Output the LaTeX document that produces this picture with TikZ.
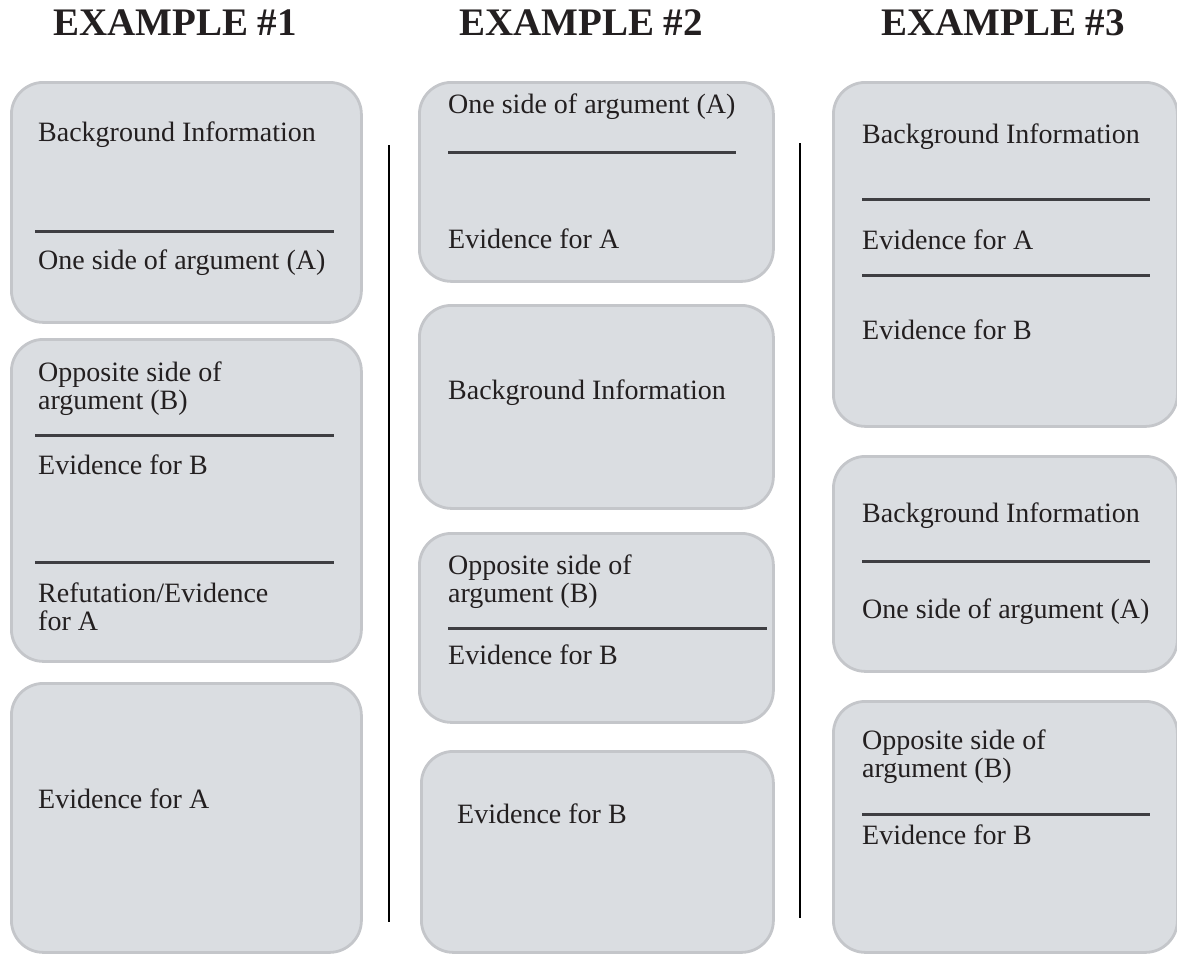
\documentclass[tikz,border=0pt]{standalone}
\usepackage{fontspec}
\setmainfont{Liberation Serif}
\usetikzlibrary{positioning}

\definecolor{panelfill}{RGB}{218,221,225}
\definecolor{paneledge}{RGB}{196,198,202}
\definecolor{rulegrey}{RGB}{62,62,66}
\definecolor{inkblack}{RGB}{35,31,32}

\begin{document}
\begin{tikzpicture}[
  x=1pt, y=-1pt,
  panel/.style={draw=paneledge, fill=panelfill, line width=2.8pt,
    rounded corners=32pt, anchor=north west, inner sep=0pt},
  title/.style={font=\fontsize{39}{39}\selectfont\bfseries, text=inkblack,
    anchor=base, inner sep=0pt},
  lbl/.style={font=\fontsize{28}{27}\selectfont, text=inkblack,
    anchor=base west, inner sep=0pt, align=left},
  sep/.style={draw=rulegrey, line width=3pt},
  divider/.style={draw=black, line width=2.6pt}
]
\clip (0,0) rectangle (1177,953);

\node[title] (t1) at (175,35) {EXAMPLE \#1};
\node[title] (t2) at (581,35) {EXAMPLE \#2};
\node[title] (t3) at (1003,35) {EXAMPLE \#3};

% example 1
\node[panel, minimum width=350pt, minimum height=240pt] (b1a) at (10,81) {};
\node[panel, minimum width=350pt, minimum height=322pt] (b1b) at (10,338) {};
\node[panel, minimum width=350pt, minimum height=269pt] (b1c) at (10,682) {};

\node[lbl] (b1a1) at (38,141) {Background Information};
\node[lbl] (b1a2) at (38,269) {One side of argument (A)};
\node[lbl] (b1b1) at (38,381) {Opposite side of};
\node[lbl] (b1b2) at (38,409) {argument (B)};
\node[lbl] (b1b3) at (38,474) {Evidence for B};
\node[lbl] (b1b4) at (38,602) {Refutation/Evidence};
\node[lbl] (b1b5) at (38,630) {for A};
\node[lbl] (b1c1) at (38,808) {Evidence for A};

\draw[sep] (35,231) -- (334,231);
\draw[sep] (35,435) -- (334,435);
\draw[sep] (35,562) -- (334,562);

\draw[divider] (389,145) -- (389,922);

% example 2
\node[panel, minimum width=354pt, minimum height=199pt] (b2a) at (418,81) {};
\node[panel, minimum width=354pt, minimum height=203pt] (b2b) at (418,304) {};
\node[panel, minimum width=354pt, minimum height=189pt] (b2c) at (418,532) {};
\node[panel, minimum width=352pt, minimum height=201pt] (b2d) at (420,750) {};

\node[lbl] (b2a1) at (448,113) {One side of argument (A)};
\node[lbl] (b2a2) at (448,248) {Evidence for A};
\node[lbl] (b2b1) at (448,399) {Background Information};
\node[lbl] (b2c1) at (448,574) {Opposite side of};
\node[lbl] (b2c2) at (448,602) {argument (B)};
\node[lbl] (b2c3) at (448,664) {Evidence for B};
\node[lbl] (b2d1) at (457,823) {Evidence for B};

\draw[sep] (448,152) -- (736,152);
\draw[sep] (448,628) -- (767,628);

\draw[divider] (800,143) -- (800,918);

% example 3
\node[panel, minimum width=344pt, minimum height=344pt] (b3a) at (832,81) {};
\node[panel, minimum width=344pt, minimum height=215pt] (b3b) at (832,455) {};
\node[panel, minimum width=344pt, minimum height=251pt] (b3c) at (832,700) {};

\node[lbl] (b3a1) at (862,143) {Background Information};
\node[lbl] (b3a2) at (862,249) {Evidence for A};
\node[lbl] (b3a3) at (862,339) {Evidence for B};
\node[lbl] (b3b1) at (862,522) {Background Information};
\node[lbl] (b3b2) at (862,618) {One side of argument (A)};
\node[lbl] (b3c1) at (862,749) {Opposite side of};
\node[lbl] (b3c2) at (862,777) {argument (B)};
\node[lbl] (b3c3) at (862,844) {Evidence for B};

\draw[sep] (862,199) -- (1150,199);
\draw[sep] (862,275) -- (1150,275);
\draw[sep] (862,561) -- (1150,561);
\draw[sep] (862,814) -- (1150,814);

\end{tikzpicture}
\end{document}
